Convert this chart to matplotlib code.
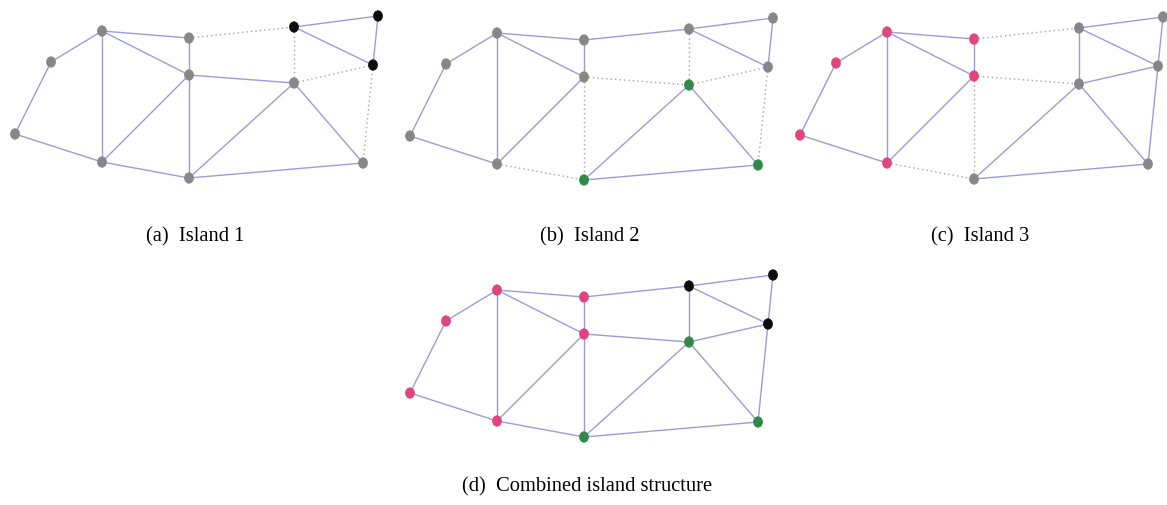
import matplotlib
matplotlib.use("Agg")
import matplotlib.pyplot as plt
import matplotlib.patches as patches

# node positions (pixels inside one panel, y grows downward)
nodes = ["A", "B", "C", "D", "E", "F", "G", "H", "I", "J", "K", "L"]
node_x = [15, 51, 102, 102, 189, 189, 189, 294, 294, 378, 373, 363]
node_y = [134, 62, 31, 162, 38, 75, 178, 27, 83, 16, 65, 163]

edges = [("A", "B"), ("B", "C"), ("A", "D"), ("C", "D"), ("C", "E"), ("C", "F"),
         ("E", "F"), ("D", "F"), ("D", "G"), ("F", "G"), ("E", "H"), ("F", "I"),
         ("G", "I"), ("G", "L"), ("H", "I"), ("H", "J"), ("H", "K"), ("J", "K"),
         ("I", "K"), ("I", "L"), ("K", "L")]

# per panel: node colours and the edges that are dotted (cut)
colors_a = ["gray"] * 7 + ["black", "gray", "black", "black", "gray"]
dotted_a = [("E", "H"), ("H", "I"), ("I", "K"), ("K", "L")]

colors_b = ["gray"] * 6 + ["green", "gray", "green", "gray", "gray", "green"]
dotted_b = [("F", "I"), ("F", "G"), ("D", "G"), ("H", "I"), ("I", "K"), ("K", "L")]

colors_c = ["pink"] * 6 + ["gray"] * 6
dotted_c = [("E", "H"), ("F", "I"), ("F", "G"), ("D", "G")]

colors_d = ["pink"] * 6 + ["green", "black", "green", "black", "black", "green"]
dotted_d = []

captions = ["(a)  Island 1", "(b)  Island 2", "(c)  Island 3", "(d)  Combined island structure"]

palette = {"gray": "#878787", "black": "#0d0d0d", "pink": "#e2457d", "green": "#2f8a48"}
edge_col = "#9c9cd8"
dot_col = "#a3a3a3"

W, H = 1167, 505
fig = plt.figure(figsize=(W / 100, H / 100), dpi=100)
plt.rcParams['font.family'] = ['Liberation Serif', 'DejaVu Serif']

pw, ph = 384, 200


def panel(ox, oy, colors, dotted):
    ax = fig.add_axes([ox / W, 1 - (oy + ph) / H, pw / W, ph / H])
    ax.set_xlim(0, pw)
    ax.set_ylim(ph, 0)
    ax.axis('off')
    pos = {n: (x, y) for n, x, y in zip(nodes, node_x, node_y)}
    cut = set(dotted)
    for p, q in edges:
        xs = [pos[p][0], pos[q][0]]
        ys = [pos[p][1], pos[q][1]]
        if (p, q) in cut:
            ax.plot(xs, ys, color=dot_col, lw=1.0, ls=(0, (1, 2.2)), zorder=1)
        else:
            ax.plot(xs, ys, color=edge_col, lw=1.0, zorder=1)
    for n, c in zip(nodes, colors):
        e = patches.Ellipse(pos[n], 9, 10.5, facecolor=palette[c], edgecolor=palette[c],
                            lw=0.5, zorder=3, clip_on=False)
        ax.add_patch(e)
    return ax


panel(0, 0, colors_a, dotted_a)
panel(395, 2, colors_b, dotted_b)
panel(785, 1, colors_c, dotted_c)
panel(395, 259, colors_d, dotted_d)

cap_pos = [(195, 237), (590, 237), (980, 237), (587, 487)]
for (cx, cy), txt in zip(cap_pos, captions):
    fig.text(cx / W, 1 - cy / H, txt, ha='center', va='center', fontsize=14.8, color='black')

fig.savefig("out.png", dpi=100, facecolor='white')
